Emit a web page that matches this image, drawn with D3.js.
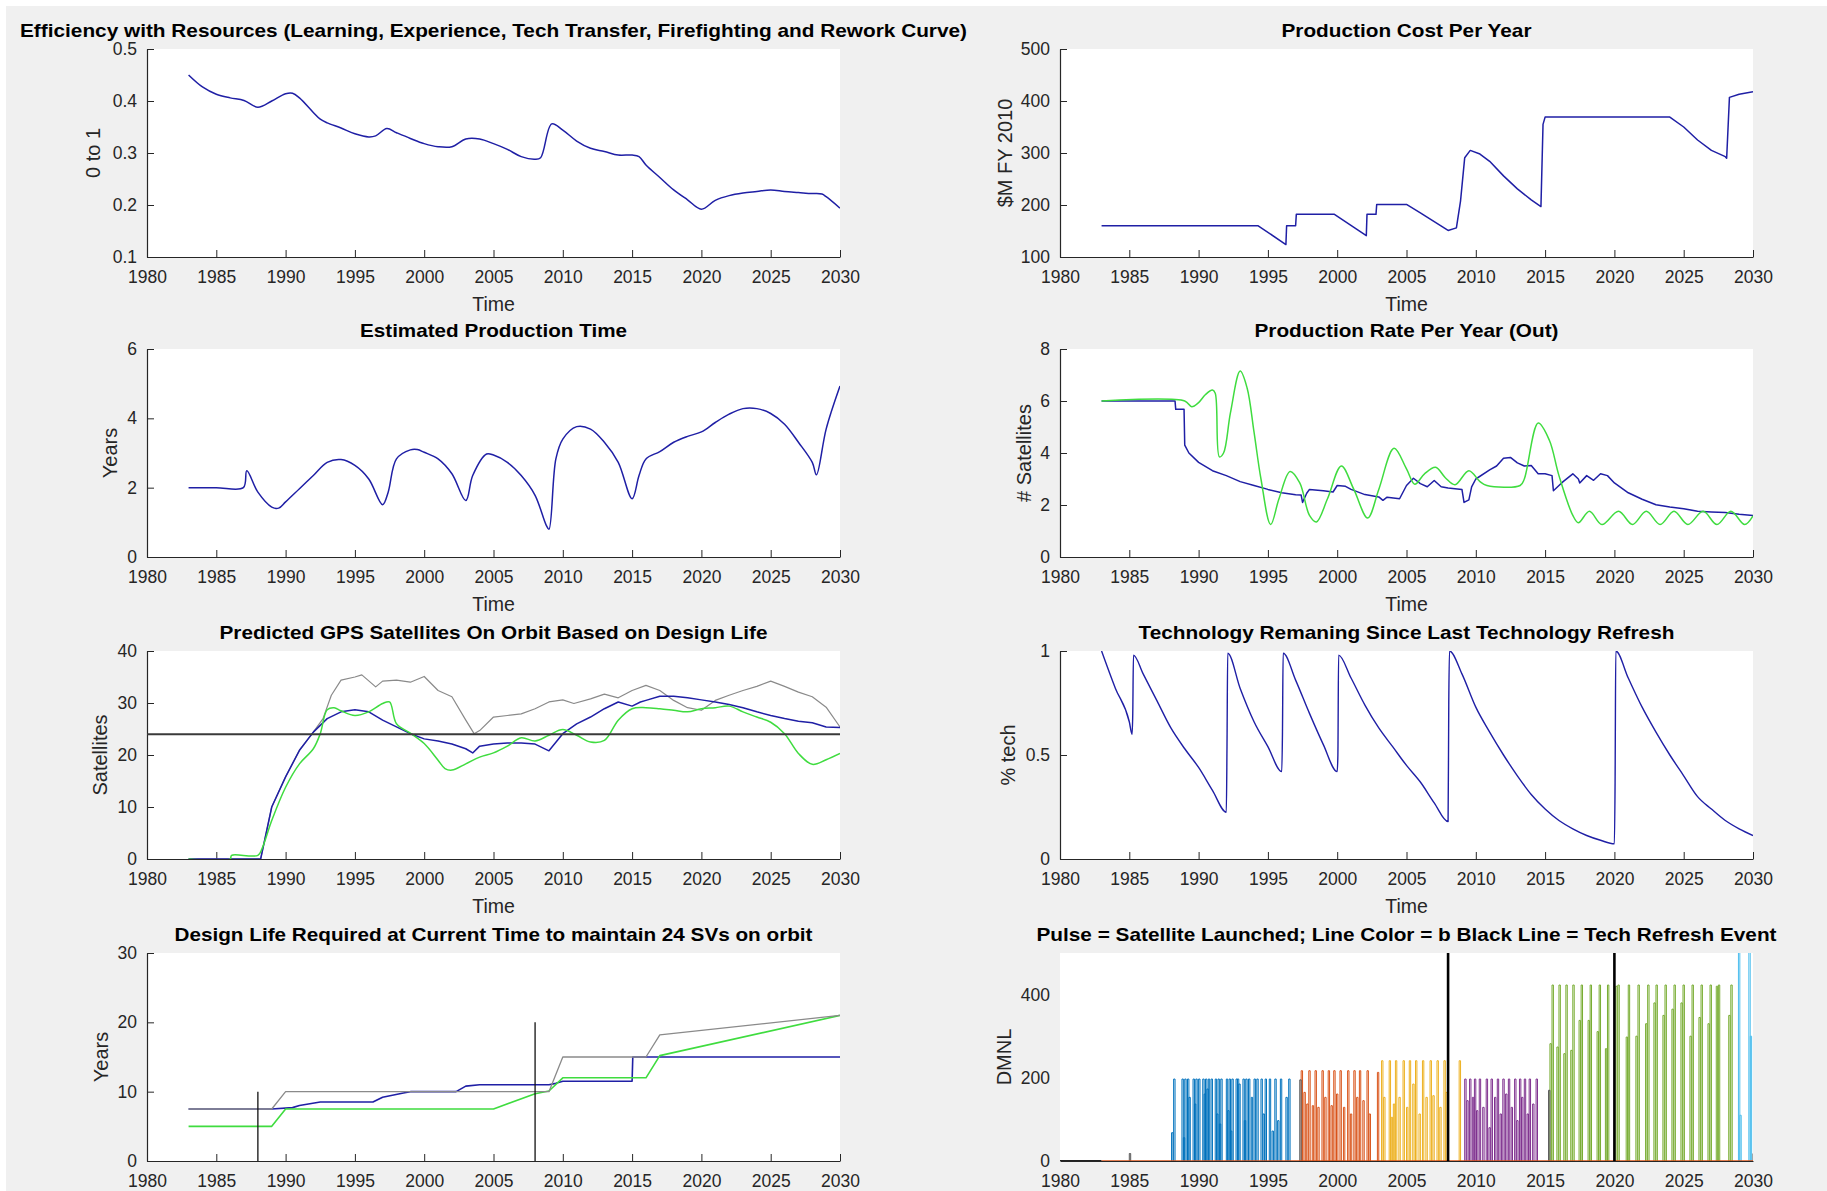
<!DOCTYPE html>
<html>
<head>
<meta charset="utf-8">
<script src="https://cdn.jsdelivr.net/npm/d3@7"></script>
<style>
  body { margin: 0; background: #fff; }
  svg { display: block; font-family: "Liberation Sans", Arial, sans-serif; }
</style>
</head>
<body>
<svg id="fig"></svg>
<script>
// ---- tick labels ----
const xTicks = [1980, 1985, 1990, 1995, 2000, 2005, 2010, 2015, 2020, 2025, 2030];

// ---- Efficiency with Resources ----
const effTime = [1983, 1984, 1985, 1986, 1987, 1988, 1989, 1990, 1990.5, 1991, 1992, 1992.5, 1993, 1994, 1995, 1996, 1996.5, 1997.3, 1998, 1999, 2000, 2001, 2002, 2003, 2004, 2005, 2006, 2007, 2008, 2008.4, 2009.2, 2010, 2011, 2012, 2013, 2014, 2015, 2015.5, 2016, 2017, 2018, 2019, 2020, 2021, 2022, 2023, 2024, 2025, 2026, 2027, 2028, 2028.7, 2029, 2030];
const effValue = [0.450, 0.427, 0.413, 0.406, 0.401, 0.388, 0.400, 0.414, 0.415, 0.406, 0.378, 0.365, 0.358, 0.348, 0.337, 0.331, 0.333, 0.347, 0.339, 0.328, 0.318, 0.312, 0.312, 0.327, 0.327, 0.318, 0.307, 0.293, 0.288, 0.291, 0.356, 0.344, 0.323, 0.309, 0.303, 0.296, 0.296, 0.293, 0.277, 0.253, 0.229, 0.210, 0.192, 0.209, 0.218, 0.223, 0.226, 0.229, 0.226, 0.224, 0.222, 0.221, 0.216, 0.194];
const effTicks = [0.1, 0.2, 0.3, 0.4, 0.5];

// ---- Production Cost Per Year ----
const costTime = [1983, 1994.3, 1996.3, 1996.35, 1997, 1997.05, 1999.8, 2002.1, 2002.15, 2002.8, 2002.85, 2005, 2006, 2007, 2008, 2008.6, 2008.9, 2009.2, 2009.6, 2010.3, 2011, 2012, 2013, 2014, 2014.7, 2014.85, 2015, 2024, 2025, 2026, 2027, 2028, 2028.1, 2028.3, 2029, 2030];
const costValue = [160, 160, 124, 160, 160, 182, 182, 141, 182, 182, 201, 201, 185, 168, 151, 156, 208, 291, 305, 298, 284, 256, 231, 210, 197, 355, 369, 369, 350, 325, 305, 293, 290, 407, 413, 418];
const costTicks = [100, 200, 300, 400, 500];

// ---- Estimated Production Time ----
const prodTimeTime = [1983, 1985, 1986.95, 1987.2, 1988, 1989, 1989.5, 1990, 1991, 1992, 1993, 1994, 1995, 1996, 1997, 1997.4, 1998, 1999, 1999.5, 2000, 2001, 2002, 2003, 2003.5, 2004.5, 2005, 2006, 2007, 2008, 2008.8, 2009, 2009.5, 2010, 2011, 2012, 2013, 2014, 2015, 2015.5, 2016, 2017, 2018, 2019, 2020, 2021, 2022, 2023, 2024, 2025, 2026, 2027, 2028, 2028.3, 2029, 2030];
const prodTimeValue = [2.0, 2.0, 2.0, 2.49, 1.87, 1.44, 1.41, 1.59, 1.97, 2.35, 2.73, 2.81, 2.64, 2.25, 1.51, 1.87, 2.83, 3.09, 3.10, 3.02, 2.83, 2.40, 1.63, 2.35, 2.97, 2.94, 2.73, 2.35, 1.78, 0.92, 0.8, 2.83, 3.40, 3.76, 3.69, 3.31, 2.73, 1.68, 2.35, 2.83, 3.04, 3.31, 3.48, 3.61, 3.88, 4.12, 4.28, 4.28, 4.14, 3.83, 3.31, 2.73, 2.37, 3.69, 4.93];
const prodTimeTicks = [0, 2, 4, 6];

// ---- Production Rate Per Year (Out) ----
const rateBlueTime = [1983, 1988.3, 1988.35, 1988.95, 1989.0, 1989.3, 1990, 1991, 1992, 1993, 1994, 1995, 1996, 1997, 1997.4, 1997.5, 1997.8, 1998, 1999, 1999.7, 2000, 2000.6, 2001, 2002, 2003, 2003.3, 2003.6, 2004.5, 2005, 2005.5, 2006, 2006.5, 2007, 2007.5, 2008, 2009, 2009.15, 2009.5, 2009.7, 2010, 2011, 2011.5, 2012, 2012.5, 2013, 2013.5, 2014, 2014.5, 2015, 2015.5, 2015.6, 2016, 2016.3, 2017, 2017.4, 2017.5, 2018, 2018.5, 2019, 2019.5, 2020, 2021, 2022, 2023, 2024, 2025, 2026, 2027, 2028, 2029, 2030];
const rateBlueValue = [6.0, 6.0, 5.68, 5.68, 4.3, 4.0, 3.64, 3.32, 3.13, 2.9, 2.75, 2.6, 2.47, 2.39, 2.38, 2.1, 2.45, 2.6, 2.55, 2.5, 2.75, 2.72, 2.6, 2.4, 2.31, 2.18, 2.3, 2.24, 2.75, 3.03, 2.82, 2.7, 2.94, 2.7, 2.65, 2.6, 2.1, 2.2, 2.7, 3.0, 3.35, 3.5, 3.8, 3.83, 3.62, 3.5, 3.52, 3.2, 3.2, 3.13, 2.55, 2.75, 2.9, 3.2, 3.0, 2.85, 3.13, 2.95, 3.2, 3.13, 2.85, 2.47, 2.22, 2.01, 1.92, 1.86, 1.76, 1.73, 1.71, 1.64, 1.6];
const rateGreenTime = [1983, 1989, 1989.5, 1990, 1990.5, 1991, 1991.2, 1991.5, 1991.8, 1992.3, 1993, 1993.5, 1994, 1994.5, 1995.2, 1995.8, 1996.6, 1997.3, 1998, 1998.5, 1999.3, 2000.3, 2001.2, 2002.2, 2003, 2004.1, 2005, 2005.6, 2006.3, 2007.1, 2007.8, 2008.5, 2009.5, 2010.3, 2010.8, 2013.2, 2013.5, 2014.5, 2015.3, 2016, 2017, 2017.4, 2018.2, 2019.1, 2020.3, 2021.3, 2022.3, 2023.3, 2024.3, 2025.3, 2026.4, 2027.4, 2028.4, 2029.4, 2030];
const rateGreenValue = [6.0, 6.0, 5.78, 5.94, 6.25, 6.42, 6.3, 3.85, 4.0, 5.55, 7.15, 6.5, 4.8, 3.0, 1.25, 2.24, 3.29, 2.85, 1.6, 1.35, 2.24, 3.5, 2.6, 1.5, 2.6, 4.18, 3.39, 2.8, 3.2, 3.45, 3.05, 2.78, 3.32, 2.9, 2.75, 2.75, 3.0, 5.15, 4.5, 3.13, 1.6, 1.32, 1.76, 1.25, 1.76, 1.25, 1.76, 1.25, 1.76, 1.25, 1.76, 1.25, 1.76, 1.25, 1.58];
const rateTicks = [0, 2, 4, 6, 8];

// ---- Predicted GPS Satellites On Orbit ----
const gpsGreyTime = [1983, 1988.2, 1989, 1990, 1991, 1992, 1992.7, 1993.3, 1994, 1995, 1995.5, 1996.5, 1997, 1998, 1999, 2000, 2001, 2002, 2003, 2003.6, 2004, 2005, 2006, 2007, 2008, 2009, 2010, 2010.8, 2012, 2013, 2014, 2015, 2016, 2017, 2018, 2019, 2020, 2021, 2022, 2023, 2024, 2025, 2026, 2027, 2028, 2029, 2030];
const gpsGreyValue = [0, 0, 10, 15.8, 20.9, 24.4, 27, 31.5, 34.4, 35, 35.4, 33.1, 34.2, 34.4, 34, 35.1, 32.4, 31.2, 26.7, 24.1, 24.7, 27.3, 27.6, 27.9, 28.9, 30.2, 30.6, 29.9, 30.8, 31.7, 31, 32.4, 33.4, 32.4, 30.5, 29.1, 28.6, 30.5, 31.5, 32.4, 33.2, 34.2, 33.2, 32.1, 31.2, 29.2, 25.4];
const gpsBlueTime = [1983, 1988.2, 1989, 1990, 1991, 1992, 1993, 1994, 1995, 1996, 1997, 1998, 1999, 2000, 2001, 2002, 2003, 2003.5, 2004, 2005, 2006, 2007, 2008, 2009, 2010, 2011, 2012, 2013, 2014, 2015, 2015.6, 2016, 2017, 2018, 2019, 2020, 2021, 2022, 2023, 2024, 2025, 2026, 2027, 2028, 2029, 2030];
const gpsBlueValue = [0, 0, 10, 15.8, 20.9, 24.4, 27, 28.3, 28.7, 28.3, 26.7, 25.4, 24.1, 23.1, 22.7, 22.1, 21.2, 20.4, 21.7, 22.1, 22.3, 22.3, 22.1, 20.8, 24.1, 26, 27.3, 28.9, 30.2, 29.4, 30.2, 30.5, 31.3, 31.3, 31, 30.6, 30.2, 29.7, 29.1, 28.3, 27.6, 27, 26.5, 26.2, 25.4, 25.3];
const gpsGreenTime = [1983, 1986, 1986.1, 1988, 1988.3, 1989, 1990, 1991, 1992, 1992.5, 1993, 1993.5, 1994, 1995, 1996, 1997, 1997.5, 1998, 1999, 2000, 2001, 2001.5, 2002, 2003, 2004, 2005, 2006, 2007, 2008, 2009, 2010, 2011, 2012, 2013, 2014, 2015, 2016, 2017, 2018, 2019, 2020, 2021, 2022, 2023, 2024, 2025, 2026, 2027, 2028, 2029, 2030];
const gpsGreenValue = [0, 0, 0.7, 0.7, 2, 7.4, 13.8, 18.3, 21.2, 24.1, 28.7, 29.1, 28.5, 27.6, 28.3, 29.9, 30.2, 26, 24.2, 22.2, 19, 17.4, 17.1, 18.3, 19.6, 20.4, 21.7, 23.3, 22.7, 23.8, 24.9, 23.8, 22.5, 22.8, 26.7, 28.9, 29.1, 28.9, 28.6, 28.3, 28.9, 29.1, 29.4, 28.3, 27.3, 26.3, 24.1, 20.3, 18.2, 19.1, 20.3];
const gpsRequired = 24;
const gpsTicks = [0, 10, 20, 30, 40];

// ---- Technology Remaining ----
const techTime = [1983, 1984, 1985, 1985.2, 1985.25, 1985.3, 1986, 1987, 1988, 1989, 1990, 1991, 1992, 1992.05, 1992.1, 1993, 1994, 1995, 1996, 1996.05, 1996.1, 1997, 1998, 1999, 2000, 2000.05, 2000.1, 2001, 2002, 2003, 2004, 2005, 2006, 2007, 2008, 2008.05, 2008.1, 2009, 2010, 2011, 2012, 2013, 2014, 2015, 2016, 2017, 2018, 2019, 2020, 2020.05, 2020.1, 2021, 2022, 2023, 2024, 2025, 2026, 2027, 2028, 2029, 2030];
const techValue = [1.0, 0.82, 0.66, 0.6, 0.7, 0.98, 0.89, 0.76, 0.63, 0.53, 0.44, 0.33, 0.225, 0.55, 0.99, 0.82, 0.66, 0.54, 0.42, 0.6, 0.99, 0.86, 0.70, 0.55, 0.42, 0.5, 0.98, 0.87, 0.74, 0.63, 0.54, 0.45, 0.37, 0.27, 0.18, 0.75, 1.0, 0.89, 0.73, 0.61, 0.5, 0.4, 0.31, 0.24, 0.185, 0.145, 0.113, 0.09, 0.073, 0.37, 1.0, 0.87, 0.73, 0.61, 0.5, 0.4, 0.3, 0.24, 0.185, 0.145, 0.113];
const techTicks = [0, 0.5, 1];

// ---- Design Life Required ----
const lifeGreyTime = [1983, 1989, 1990, 2009, 2010, 2016, 2017, 2030];
const lifeGreyValue = [7.5, 7.5, 10, 10, 15, 15, 18.2, 21];
const lifeGreenTime = [1983, 1989, 1990, 2005, 2008, 2009, 2010, 2016, 2017, 2030];
const lifeGreenValue = [5, 5, 7.5, 7.5, 9.7, 10.1, 12, 12, 15.2, 21];
const lifeBlueTime = [1983, 1989, 1990.5, 1991, 1992.5, 1996.3, 1997, 1998.5, 1999, 2002.3, 2003, 2004, 2009, 2009.5, 2010, 2015, 2015.05, 2030];
const lifeBlueValue = [7.5, 7.5, 7.7, 8, 8.5, 8.5, 9.2, 9.8, 10, 10, 10.8, 11, 11, 11.2, 11.5, 11.5, 15, 15];
const lifeMarkYear = [1988, 2008];
const lifeMarkHeight = [10, 20];
const lifeTicks = [0, 10, 20, 30];

// ---- Pulse = Satellite Launched ----
const pulseBlueTime = [1988.05, 1988.2, 1988.8, 1988.9, 1989.0, 1989.2, 1989.3, 1989.6, 1989.7, 1989.8, 1990.0, 1990.3, 1990.4, 1990.5, 1990.6, 1990.7, 1990.9, 1991.2, 1991.3, 1991.4, 1991.5, 1991.6, 1992.0, 1992.1, 1992.2, 1992.3, 1992.4, 1992.7, 1992.8, 1992.9, 1993.2, 1993.3, 1993.4, 1993.6, 1993.8, 1994.0, 1994.2, 1994.5, 1994.65, 1994.8, 1995.1, 1995.3, 1995.5, 1995.7, 1995.9, 1996.3, 1996.5];
const pulseBlueHeight = [68, 197, 197, 56, 197, 197, 153, 197, 137, 197, 197, 197, 161, 197, 173, 197, 197, 197, 113, 197, 89, 197, 197, 121, 197, 72, 197, 197, 197, 185, 197, 97, 197, 197, 153, 197, 197, 197, 113, 197, 197, 72, 197, 97, 197, 153, 197];
const pulseOrangeTime = [1997.4, 1997.6, 1997.8, 1997.95, 1998.2, 1998.4, 1998.6, 1998.9, 1999.1, 1999.35, 1999.55, 1999.75, 1999.95, 2000.2, 2000.45, 2000.75, 2000.95, 2001.2, 2001.4, 2001.6, 2001.85, 2002.15, 2002.3, 2002.9];
const pulseOrangeHeight = [217, 165, 137, 217, 133, 217, 129, 217, 153, 217, 133, 217, 161, 217, 129, 217, 113, 217, 153, 217, 145, 217, 113, 213];
const pulseYellowTime = [2003.2, 2003.35, 2003.75, 2003.9, 2004.05, 2004.2, 2004.45, 2004.75, 2005.0, 2005.2, 2005.45, 2005.65, 2005.9, 2006.15, 2006.4, 2006.7, 2006.9, 2007.2, 2007.4, 2007.7, 2007.85, 2008.8];
const pulseYellowHeight = [241, 153, 241, 105, 137, 241, 153, 241, 129, 241, 185, 241, 113, 241, 153, 241, 157, 241, 129, 241, 165, 241];
const pulsePurpleTime = [2009.2, 2009.35, 2009.55, 2009.75, 2009.9, 2010.05, 2010.25, 2010.5, 2010.75, 2010.95, 2011.1, 2011.35, 2011.55, 2011.75, 2011.95, 2012.15, 2012.35, 2012.55, 2012.8, 2012.95, 2013.15, 2013.3, 2013.5, 2013.7, 2013.85, 2014.1, 2014.35];
const pulsePurpleHeight = [197, 145, 197, 153, 197, 121, 197, 129, 197, 80, 197, 153, 197, 113, 197, 161, 197, 129, 197, 97, 197, 153, 197, 113, 197, 137, 197];
const pulseGreenTime = [2015.35, 2015.5, 2015.85, 2016.0, 2016.35, 2016.5, 2016.85, 2017.0, 2017.45, 2017.6, 2018.1, 2018.25, 2018.75, 2018.9, 2019.35, 2019.5, 2020.1, 2020.25, 2020.85, 2021.0, 2021.55, 2021.7, 2022.25, 2022.4, 2022.85, 2023.0, 2023.5, 2023.65, 2024.15, 2024.3, 2024.8, 2024.95, 2025.45, 2025.6, 2026.1, 2026.25, 2026.75, 2026.9, 2027.35, 2027.5, 2028.25, 2028.4];
const pulseGreenHeight = [282, 423, 274, 423, 258, 423, 266, 423, 338, 423, 338, 423, 311, 423, 270, 423, 420, 423, 298, 423, 300, 423, 330, 423, 380, 423, 350, 423, 365, 423, 380, 423, 300, 423, 345, 423, 330, 423, 420, 423, 350, 423];
const pulseCyanTime = [2028.95, 2029.05, 2029.7, 2029.8];
const pulseCyanHeight = [560, 110, 560, 300];
const pulseDarkTime = [1985.0, 1997.3, 2015.25, 2030.0];
const pulseDarkHeight = [18, 195, 170, 18];
const refreshYears = [2008, 2020];
const pulseTicks = [0, 200, 400];

// ---- layout ----
const W = 1827, H = 1191;
const colLeft = [147, 1060];
const rowTop = [49, 349, 651, 953];
const axW = 693, axH = 208;
const axisColor = '#262626';
const blue = '#1f1fa5', green = '#3fdc3f', grey = '#8a8a8a';

const svg = d3.select('#fig').attr('width', W).attr('height', H);
svg.append('rect').attr('width', W).attr('height', H).attr('fill', '#fff');
svg.append('rect').attr('x', 6).attr('y', 6).attr('width', W - 6).attr('height', H - 6).attr('fill', '#f0f0f0');

const zip = (t, v) => t.map((d, i) => ({t: d, v: v[i]}));
let clipCount = 0;

function drawLine(g, x, y, t, v, color, width, curve) {
    const line = d3.line().x(d => x(d.t)).y(d => y(d.v)).curve(curve || d3.curveLinear);
    g.append('path')
        .attr('d', line(zip(t, v)))
        .attr('fill', 'none')
        .attr('stroke', color)
        .attr('stroke-width', width)
        .attr('stroke-linejoin', 'round');
}

function drawPulses(g, x, y, t, h, color) {
    const dw = 0.1;
    const line = d3.line().x(d => x(d.t)).y(d => y(d.v));
    t.forEach((d, i) => {
        g.append('path')
            .attr('d', line([{t: d, v: 0}, {t: d, v: h[i]}, {t: d + dw, v: h[i]}, {t: d + dw, v: 0}]))
            .attr('fill', 'none')
            .attr('stroke', color)
            .attr('stroke-width', 1);
    });
}

function panel(cfg) {
    const left = colLeft[cfg.col], top = rowTop[cfg.row];
    const g = svg.append('g').attr('transform', `translate(${left},${top})`);
    g.append('rect').attr('width', axW).attr('height', axH).attr('fill', '#fff');

    const x = d3.scaleLinear().domain([1980, 2030]).range([0, axW]);
    const y = d3.scaleLinear().domain(cfg.yDomain).range([axH, 0]);

    const xaxis = d3.axisBottom(x).tickValues(xTicks).tickFormat(d3.format('d'))
        .tickSizeInner(-7).tickSizeOuter(0).tickPadding(13.5);
    const yaxis = d3.axisLeft(y).tickValues(cfg.yTicks).tickFormat(cfg.yFormat || d3.format('~g'))
        .tickSizeInner(-7).tickSizeOuter(0).tickPadding(10);

    const xg = g.append('g').attr('transform', `translate(0,${axH})`).call(xaxis);
    const yg = g.append('g').call(yaxis);
    [xg, yg].forEach(a => {
        a.attr('color', axisColor).attr('font-size', 17.5).attr('font-family', null);
        a.select('.domain').attr('stroke-width', 1.2);
    });
    if (cfg.bare) {
        xg.selectAll('.tick line').remove();
        yg.selectAll('.tick line').remove();
        yg.select('.domain').remove();
    }

    const clipId = 'clip' + (clipCount++);
    g.append('clipPath').attr('id', clipId)
        .append('rect').attr('width', axW).attr('height', axH);
    const plot = g.append('g').attr('clip-path', `url(#${clipId})`);
    cfg.draw(plot, x, y);

    g.append('text')
        .attr('x', axW / 2).attr('y', -12)
        .attr('text-anchor', 'middle')
        .attr('font-size', 18.5).attr('font-weight', 'bold')
        .attr('fill', '#000')
        .attr('textLength', cfg.titleWidth).attr('lengthAdjust', 'spacingAndGlyphs')
        .text(cfg.title);

    // the bottom row's "Time" label falls below the picture's edge, so it is left out
    if (cfg.row < 3) {
        g.append('text')
            .attr('x', axW / 2).attr('y', axH + 54)
            .attr('text-anchor', 'middle')
            .attr('font-size', 19.5).attr('fill', axisColor)
            .text('Time');
    }

    g.append('text')
        .attr('transform', `translate(${cfg.ylabelX - left},${axH / 2}) rotate(-90)`)
        .attr('dy', '0.35em')
        .attr('text-anchor', 'middle')
        .attr('font-size', 20).attr('fill', axisColor)
        .text(cfg.ylabel);
}

panel({
    col: 0, row: 0, yDomain: [0.1, 0.5], yTicks: effTicks, yFormat: d3.format('.1f'),
    title: 'Efficiency with Resources (Learning, Experience, Tech Transfer, Firefighting and Rework Curve)',
    titleWidth: 947, ylabel: '0 to 1', ylabelX: 93,
    draw: (g, x, y) => drawLine(g, x, y, effTime, effValue, blue, 1.5, d3.curveCatmullRom.alpha(0.5))
});

panel({
    col: 1, row: 0, yDomain: [100, 500], yTicks: costTicks,
    title: 'Production Cost Per Year', titleWidth: 250, ylabel: '$M FY 2010', ylabelX: 1005,
    draw: (g, x, y) => drawLine(g, x, y, costTime, costValue, blue, 1.5)
});

panel({
    col: 0, row: 1, yDomain: [0, 6], yTicks: prodTimeTicks,
    title: 'Estimated Production Time', titleWidth: 267, ylabel: 'Years', ylabelX: 110,
    draw: (g, x, y) => drawLine(g, x, y, prodTimeTime, prodTimeValue, blue, 1.5, d3.curveCatmullRom.alpha(0.5))
});

panel({
    col: 1, row: 1, yDomain: [0, 8], yTicks: rateTicks,
    title: 'Production Rate Per Year (Out)', titleWidth: 304, ylabel: '# Satellites', ylabelX: 1024,
    draw: (g, x, y) => {
        drawLine(g, x, y, rateBlueTime, rateBlueValue, blue, 1.5);
        drawLine(g, x, y, rateGreenTime, rateGreenValue, green, 1.5, d3.curveCatmullRom.alpha(0.5));
    }
});

panel({
    col: 0, row: 2, yDomain: [0, 40], yTicks: gpsTicks,
    title: 'Predicted GPS Satellites On Orbit Based on Design Life', titleWidth: 548,
    ylabel: 'Satellites', ylabelX: 100,
    draw: (g, x, y) => {
        drawLine(g, x, y, gpsGreyTime, gpsGreyValue, grey, 1.2);
        drawLine(g, x, y, gpsBlueTime, gpsBlueValue, blue, 1.5);
        drawLine(g, x, y, gpsGreenTime, gpsGreenValue, green, 1.5, d3.curveCatmullRom.alpha(0.5));
        drawLine(g, x, y, [1980, 2030], [gpsRequired, gpsRequired], '#3a3a3a', 2);
    }
});

panel({
    col: 1, row: 2, yDomain: [0, 1], yTicks: techTicks,
    title: 'Technology Remaning Since Last Technology Refresh', titleWidth: 536,
    ylabel: '% tech', ylabelX: 1008,
    draw: (g, x, y) => drawLine(g, x, y, techTime, techValue, blue, 1.4, d3.curveMonotoneX)
});

panel({
    col: 0, row: 3, yDomain: [0, 30], yTicks: lifeTicks,
    title: 'Design Life Required at Current Time to maintain 24 SVs on orbit', titleWidth: 638,
    ylabel: 'Years', ylabelX: 101,
    draw: (g, x, y) => {
        drawLine(g, x, y, lifeBlueTime, lifeBlueValue, blue, 1.6);
        drawLine(g, x, y, lifeGreenTime, lifeGreenValue, green, 1.6);
        drawLine(g, x, y, lifeGreyTime, lifeGreyValue, grey, 1.3);
        lifeMarkYear.forEach((yr, i) =>
            drawLine(g, x, y, [yr, yr], [0, lifeMarkHeight[i]], '#111', 1.3));
    }
});

panel({
    col: 1, row: 3, yDomain: [0, 500], yTicks: pulseTicks, bare: true,
    title: 'Pulse = Satellite Launched; Line Color = b Black Line = Tech Refresh Event', titleWidth: 740,
    ylabel: 'DMNL', ylabelX: 1004,
    draw: (g, x, y) => {
        drawLine(g, x, y, [1980, 1983], [0, 0], '#222', 2);
        drawPulses(g, x, y, pulseBlueTime, pulseBlueHeight, '#0072BD');
        drawPulses(g, x, y, pulseOrangeTime, pulseOrangeHeight, '#D95319');
        drawPulses(g, x, y, pulseYellowTime, pulseYellowHeight, '#EDB120');
        drawPulses(g, x, y, pulsePurpleTime, pulsePurpleHeight, '#7E2F8E');
        drawPulses(g, x, y, pulseGreenTime, pulseGreenHeight, '#77AC30');
        drawPulses(g, x, y, pulseCyanTime, pulseCyanHeight, '#4DBEEE');
        drawPulses(g, x, y, pulseDarkTime, pulseDarkHeight, '#555');
        drawLine(g, x, y, [1983, 2030], [0, 0], '#D95319', 1.6);
        refreshYears.forEach(yr => drawLine(g, x, y, [yr, yr], [0, 500], '#000', 2.6));
    }
});
</script>
</body>
</html>
